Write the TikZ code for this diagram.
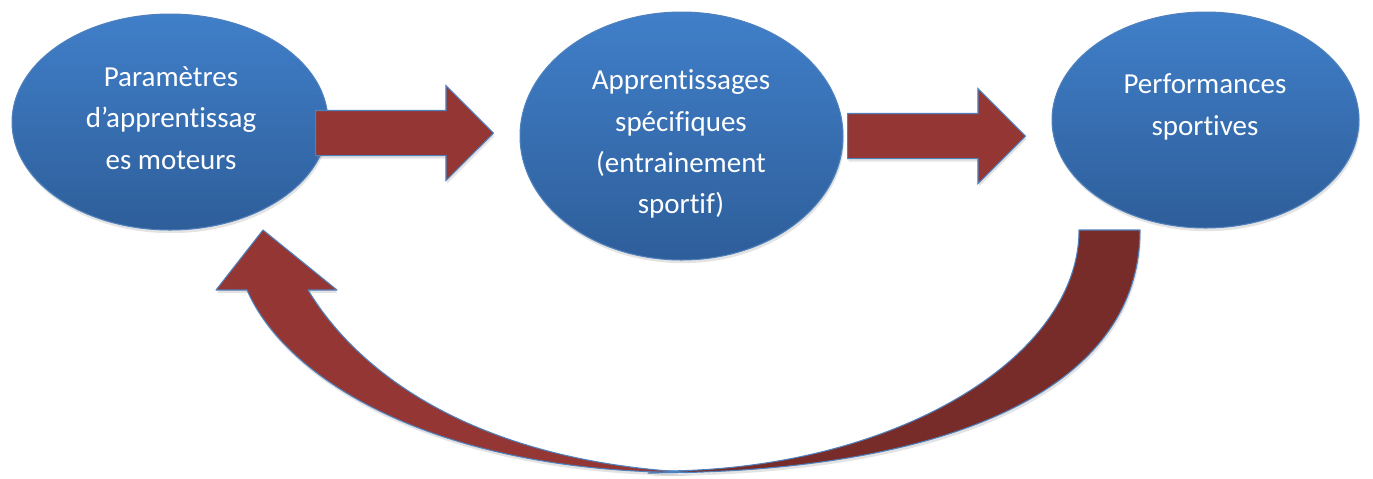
\documentclass[tikz,border=0pt]{standalone}
\usepackage{fontspec}
\setmainfont{Carlito}[Ligatures=CommonOff]
\usetikzlibrary{shapes.geometric,shapes.arrows,shadows}
\definecolor{elltop}{RGB}{64,127,201}
\definecolor{ellbot}{RGB}{46,94,154}
\definecolor{edgeblue}{RGB}{79,129,189}
\definecolor{arrred}{RGB}{148,54,52}
\definecolor{arrdark}{RGB}{119,44,42}
\begin{document}
\begin{tikzpicture}[x=0.02cm,y=-0.02cm,
	  shade/.style={drop shadow={opacity=0.22,shadow xshift=0.6pt,shadow yshift=-1.8pt}},
	  bubble/.style={ellipse,draw=edgeblue,line width=0.6pt,inner sep=0pt,top color=elltop,bottom color=ellbot,shade},
	  txt/.style={text=white,align=center,font=\fontsize{16.5}{23.5}\selectfont},
	  fat/.style={single arrow,draw=edgeblue,line width=0.6pt,fill=arrred,inner sep=0pt,text height=0.88cm,text depth=0pt,single arrow head extend=0.5cm,single arrow tip angle=90,minimum height=3.56cm,anchor=tail,shade},
	  band/.style={draw=edgeblue,line width=0.6pt,line join=round,shade}]
	  \useasboundingbox (0,0) rectangle (1373,478);
	  \node (param) [bubble,minimum width=6.32cm,minimum height=4.32cm] at (170,122) {};
	  \node (spec) [bubble,minimum width=6.46cm,minimum height=4.96cm] at (681.5,136) {};
	  \node (perf) [bubble,minimum width=6.14cm,minimum height=4.32cm] at (1205.5,120) {};
	  \node (paramtxt) [txt] at (171,118) {Paramètres\\d’apprentissag\\es moteurs};
	  \node (spectxt) [txt] at (681,144) {Apprentissages\\spécifiques\\(entrainement\\sportif)};
	  \node (perftxt) [txt] at (1205,107) {Performances\\sportives};
	  \node (a1) [fat] at (315,133) {};
	  \node (a2) [fat] at (847,136) {};
	  \filldraw[band,fill=arrdark] (1140,230) .. controls (1140,400) and (925,473) .. (648,473)
	    -- (660,471) .. controls (890,471) and (1079,360) .. (1079,230) -- cycle;
	  \filldraw[band,fill=arrred] (263,230) -- (337,290) -- (308,290)
	    .. controls (365,384) and (490,462) .. (692,472.5)
	    .. controls (440,473) and (287,382) .. (247,290)
	    -- (216,290) -- cycle;
\end{tikzpicture}
\end{document}
